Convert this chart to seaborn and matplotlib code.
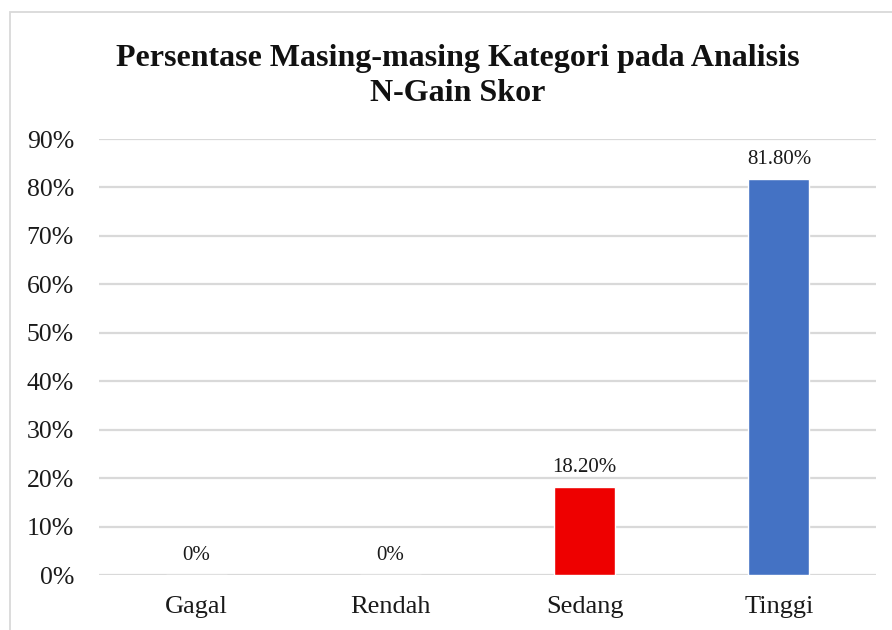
import matplotlib.pyplot as plt
import matplotlib.patches as mpatches
import seaborn as sns
import pandas as pd

# data
kategori = ["Gagal", "Rendah", "Sedang", "Tinggi"]
persen = [0.0, 0.0, 0.182, 0.818]
label_nilai = ["0%", "0%", "18.20%", "81.80%"]
warna = ["#4472C4", "#4472C4", "#EE0000", "#4472C4"]
y_ticks = [0, 0.1, 0.2, 0.3, 0.4, 0.5, 0.6, 0.7, 0.8, 0.9]

sns.set_style("white")
plt.rcParams["font.family"] = ["Liberation Serif", "DejaVu Serif"]

df = pd.DataFrame({"Kategori": kategori, "Persen": persen})

fig = plt.figure(figsize=(8.92, 6.3), dpi=100)
ax = fig.add_axes([99 / 892, 1 - 575 / 630, (876 - 99) / 892, (575 - 139) / 630])

sns.barplot(data=df, x="Kategori", y="Persen", hue="Kategori",
            palette=dict(zip(kategori, warna)), width=0.315,
            legend=False, ax=ax, saturation=1)

ax.set_ylim(0, 0.9)
ax.set_yticks(y_ticks)
ax.set_yticklabels([f"{int(round(t * 100))}%" for t in y_ticks])
ax.grid(axis="y", color="#D9D9D9", linewidth=1.6)
ax.set_axisbelow(True)
for s in ax.spines.values():
    s.set_visible(False)
ax.tick_params(axis="y", length=0, pad=18, labelsize=18.5, colors="#1a1a1a")
ax.tick_params(axis="x", length=0, pad=15, labelsize=19, colors="#1a1a1a")
ax.set_xlabel("")
ax.set_ylabel("")

for i, (v, lab) in enumerate(zip(persen, label_nilai)):
    ax.annotate(lab, (i, v), xytext=(0, 7), textcoords="offset points",
                ha="center", va="bottom", fontsize=15, color="#1a1a1a")

fig.text(458 / 892, 1 - 76 / 630, "Persentase Masing-masing Kategori pada Analisis\nN-Gain Skor",
         ha="center", va="center", fontsize=23, fontweight="bold",
         linespacing=1.27, color="#111111")

# chart border
fig.patches.append(mpatches.Rectangle((10 / 892, -0.1), 1.2, 1 - 12 / 630 + 0.1,
                                      transform=fig.transFigure, fill=False,
                                      edgecolor="#D9D9D9", linewidth=1.3))

fig.savefig("out.png", dpi=100)
plt.close(fig)
